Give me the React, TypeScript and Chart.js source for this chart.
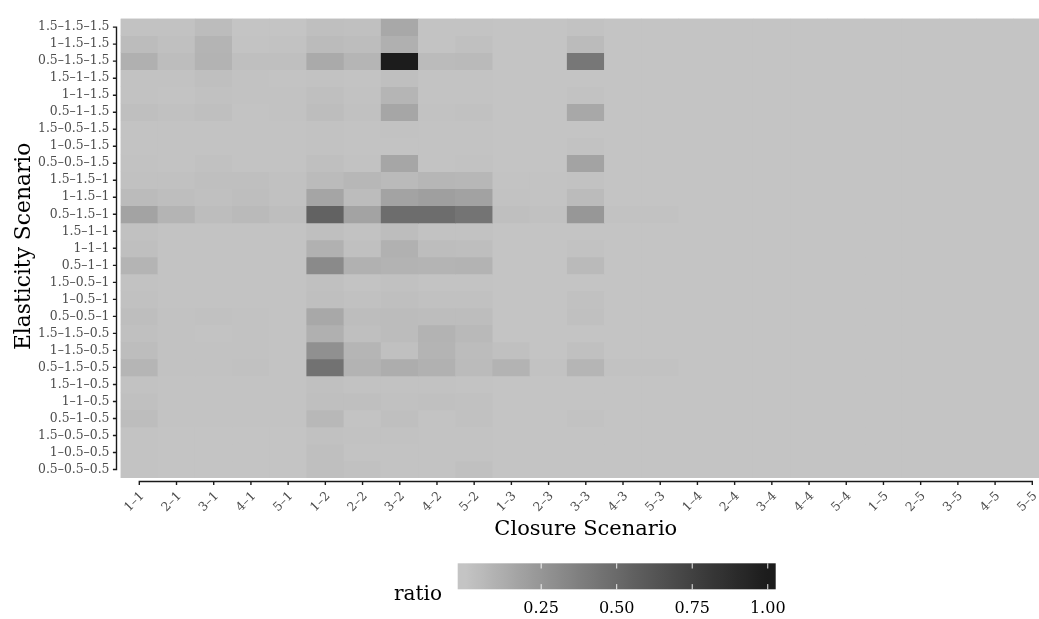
import React, { useEffect, useRef } from 'react';
import { Chart, registerables } from 'chart.js';

Chart.register(...registerables);

// ---------- data ----------
const closureScenarios = [
  '1–1', '2–1', '3–1', '4–1', '5–1',
  '1–2', '2–2', '3–2', '4–2', '5–2',
  '1–3', '2–3', '3–3', '4–3', '5–3',
  '1–4', '2–4', '3–4', '4–4', '5–4',
  '1–5', '2–5', '3–5', '4–5', '5–5',
];

const elasticityScenarios = [
  '1.5–1.5–1.5', '1–1.5–1.5', '0.5–1.5–1.5',
  '1.5–1–1.5', '1–1–1.5', '0.5–1–1.5',
  '1.5–0.5–1.5', '1–0.5–1.5', '0.5–0.5–1.5',
  '1.5–1.5–1', '1–1.5–1', '0.5–1.5–1',
  '1.5–1–1', '1–1–1', '0.5–1–1',
  '1.5–0.5–1', '1–0.5–1', '0.5–0.5–1',
  '1.5–1.5–0.5', '1–1.5–0.5', '0.5–1.5–0.5',
  '1.5–1–0.5', '1–1–0.5', '0.5–1–0.5',
  '1.5–0.5–0.5', '1–0.5–0.5', '0.5–0.5–0.5',
];

// ratio, one row per elasticity scenario, one value per closure scenario
const ratioRows: number[][] = [
  [0.01, 0.01, 0.043, 0, 0, 0.027, 0.022, 0.15, 0.005, 0.005, 0, 0, 0.01, 0, 0, 0, 0, 0, 0, 0, 0, 0, 0, 0, 0],
  [0.043, 0.022, 0.084, 0.005, 0.01, 0.05, 0.038, 0.106, 0.005, 0.022, 0, 0, 0.05, 0, 0, 0, 0, 0, 0, 0, 0, 0, 0, 0, 0],
  [0.106, 0.038, 0.09, 0.027, 0.027, 0.138, 0.08, 1.0, 0.05, 0.054, 0, 0, 0.42, 0, 0, 0, 0, 0, 0, 0, 0, 0, 0, 0, 0],
  [0.01, 0.01, 0.027, 0.01, 0.005, 0.01, 0.005, 0.027, 0.005, 0.005, 0, 0, 0, 0, 0, 0, 0, 0, 0, 0, 0, 0, 0, 0, 0],
  [0.01, 0.005, 0.016, 0.01, 0.01, 0.027, 0.01, 0.08, 0.005, 0.005, 0, 0, 0.01, 0, 0, 0, 0, 0, 0, 0, 0, 0, 0, 0, 0],
  [0.027, 0.016, 0.027, 0.005, 0.01, 0.038, 0.016, 0.16, 0.01, 0.016, 0, 0, 0.15, 0, 0, 0, 0, 0, 0, 0, 0, 0, 0, 0, 0],
  [0.005, 0.005, 0.005, 0.005, 0.005, 0.01, 0.005, 0.01, 0.005, 0.005, 0, 0, 0, 0, 0, 0, 0, 0, 0, 0, 0, 0, 0, 0, 0],
  [0.005, 0.005, 0.005, 0.005, 0.005, 0.01, 0.005, 0.005, 0.005, 0.005, 0, 0, 0.01, 0, 0, 0, 0, 0, 0, 0, 0, 0, 0, 0, 0],
  [0.01, 0.005, 0.016, 0.005, 0.005, 0.027, 0.01, 0.16, 0.005, 0.01, 0, 0, 0.176, 0, 0, 0, 0, 0, 0, 0, 0, 0, 0, 0, 0],
  [0.016, 0.016, 0.027, 0.027, 0.016, 0.05, 0.07, 0.054, 0.075, 0.07, 0.005, 0.005, 0.01, 0, 0, 0, 0, 0, 0, 0, 0, 0, 0, 0, 0],
  [0.05, 0.032, 0.022, 0.032, 0.016, 0.165, 0.043, 0.176, 0.197, 0.18, 0.01, 0.005, 0.05, 0, 0, 0, 0, 0, 0, 0, 0, 0, 0, 0, 0],
  [0.176, 0.084, 0.038, 0.054, 0.032, 0.545, 0.176, 0.48, 0.48, 0.44, 0.027, 0.016, 0.24, 0.01, 0.01, 0, 0, 0, 0, 0, 0, 0, 0, 0, 0],
  [0.016, 0.005, 0.005, 0.005, 0.005, 0.027, 0.01, 0.038, 0.01, 0.01, 0, 0, 0, 0, 0, 0, 0, 0, 0, 0, 0, 0, 0, 0, 0],
  [0.027, 0.005, 0.005, 0.005, 0.005, 0.1, 0.022, 0.1, 0.038, 0.032, 0, 0, 0.01, 0, 0, 0, 0, 0, 0, 0, 0, 0, 0, 0, 0],
  [0.084, 0.005, 0.005, 0.005, 0.005, 0.313, 0.1, 0.09, 0.085, 0.09, 0, 0, 0.054, 0, 0, 0, 0, 0, 0, 0, 0, 0, 0, 0, 0],
  [0.01, 0.005, 0.005, 0.005, 0.005, 0.022, 0.005, 0.016, 0.005, 0.005, 0, 0, 0, 0, 0, 0, 0, 0, 0, 0, 0, 0, 0, 0, 0],
  [0.016, 0.005, 0.005, 0.005, 0.005, 0.027, 0.016, 0.027, 0.016, 0.016, 0, 0, 0.016, 0, 0, 0, 0, 0, 0, 0, 0, 0, 0, 0, 0],
  [0.032, 0.01, 0.016, 0.01, 0.005, 0.15, 0.038, 0.043, 0.035, 0.038, 0, 0, 0.022, 0, 0, 0, 0, 0, 0, 0, 0, 0, 0, 0, 0],
  [0.022, 0.01, 0.005, 0.01, 0.005, 0.106, 0.027, 0.043, 0.09, 0.06, 0, 0, 0, 0, 0, 0, 0, 0, 0, 0, 0, 0, 0, 0, 0],
  [0.038, 0.01, 0.01, 0.01, 0.005, 0.28, 0.08, 0.022, 0.085, 0.043, 0.022, 0, 0.022, 0, 0, 0, 0, 0, 0, 0, 0, 0, 0, 0, 0],
  [0.08, 0.01, 0.01, 0.016, 0.005, 0.45, 0.09, 0.125, 0.1, 0.05, 0.09, 0.01, 0.08, 0.01, 0.01, 0, 0, 0, 0, 0, 0, 0, 0, 0, 0],
  [0.01, 0.005, 0.005, 0.005, 0.005, 0.022, 0.01, 0.01, 0.01, 0.005, 0, 0, 0, 0, 0, 0, 0, 0, 0, 0, 0, 0, 0, 0, 0],
  [0.022, 0.005, 0.005, 0.005, 0.005, 0.027, 0.027, 0.016, 0.022, 0.016, 0, 0, 0, 0, 0, 0, 0, 0, 0, 0, 0, 0, 0, 0, 0],
  [0.038, 0.005, 0.005, 0.005, 0.005, 0.063, 0.005, 0.027, 0.005, 0.016, 0, 0, 0.01, 0, 0, 0, 0, 0, 0, 0, 0, 0, 0, 0, 0],
  [0.005, 0, 0, 0, 0, 0.016, 0.01, 0.01, 0.005, 0.005, 0, 0, 0, 0, 0, 0, 0, 0, 0, 0, 0, 0, 0, 0, 0],
  [0.005, 0, 0, 0, 0, 0.027, 0.005, 0.005, 0.005, 0.005, 0, 0, 0, 0, 0, 0, 0, 0, 0, 0, 0, 0, 0, 0, 0],
  [0.005, 0, 0, 0, 0, 0.027, 0.016, 0.005, 0.005, 0.022, 0, 0, 0, 0, 0, 0, 0, 0, 0, 0, 0, 0, 0, 0, 0],
];

const legendBreaks = [0.25, 0.5, 0.75, 1.0];
const legendBreakLabels = ['0.25', '0.50', '0.75', '1.00'];

// ---------- colour scale (lightness interpolation, grey77 -> grey11) ----------
const LOW_GREY = 196;
const HIGH_GREY = 28;

function toLinear(c: number) {
  const s = c / 255;
  return s <= 0.04045 ? s / 12.92 : Math.pow((s + 0.055) / 1.055, 2.4);
}
function toSrgb(v: number) {
  const c = v <= 0.0031308 ? 12.92 * v : 1.055 * Math.pow(v, 1 / 2.4) - 0.055;
  return Math.round(Math.min(1, Math.max(0, c)) * 255);
}
function yToL(Y: number) {
  return Y > 0.008856 ? 116 * Math.cbrt(Y) - 16 : 903.3 * Y;
}
function lToY(L: number) {
  return L > 8 ? Math.pow((L + 16) / 116, 3) : L / 903.3;
}
const L_LOW = yToL(toLinear(LOW_GREY));
const L_HIGH = yToL(toLinear(HIGH_GREY));
function ratioColor(t: number) {
  const tt = Math.min(1, Math.max(0, t));
  const g = toSrgb(lToY(L_LOW + (L_HIGH - L_LOW) * tt));
  return `rgb(${g},${g},${g})`;
}

// ---------- layout constants ----------
const CANVAS_W = 1070;
const CANVAS_H = 619;
const PANEL_LEFT = 120.7;
const PANEL_RIGHT = 1050.9;
const PANEL_TOP = 10.3;
const PANEL_BOTTOM = 478;
const SERIF = "'DejaVu Serif', serif";

const ggPlugin = {
  id: 'ggDecor',
  beforeDatasetsDraw(chart: any) {
    const { ctx, chartArea } = chart;
    ctx.save();
    ctx.fillStyle = ratioColor(0);
    ctx.fillRect(chartArea.left, chartArea.top, chartArea.right - chartArea.left, chartArea.bottom - chartArea.top);
    ctx.restore();
  },
  afterDraw(chart: any) {
    const { ctx, chartArea } = chart;
    const xs = chart.scales.x;
    const ys = chart.scales.y;
    ctx.save();
    ctx.strokeStyle = '#1a1a1a';
    ctx.lineWidth = 1.4;
    ctx.lineCap = 'butt';

    // y axis line (truncated to tick range) + ticks
    const axX = chartArea.left - 4.2;
    const yFirst = ys.getPixelForValue(0);
    const yLast = ys.getPixelForValue(elasticityScenarios.length - 1);
    ctx.beginPath();
    ctx.moveTo(axX, yFirst - 0.7);
    ctx.lineTo(axX, yLast + 0.7);
    elasticityScenarios.forEach((_, i) => {
      const py = ys.getPixelForValue(i);
      ctx.moveTo(axX, py);
      ctx.lineTo(axX - 3.6, py);
    });
    ctx.stroke();

    // x axis line + ticks
    const axY = chartArea.bottom + 3.5;
    const xFirst = xs.getPixelForValue(0);
    const xLast = xs.getPixelForValue(closureScenarios.length - 1);
    ctx.beginPath();
    ctx.moveTo(xFirst - 0.7, axY);
    ctx.lineTo(xLast + 0.7, axY);
    closureScenarios.forEach((_, i) => {
      const px = xs.getPixelForValue(i);
      ctx.moveTo(px, axY);
      ctx.lineTo(px, axY + 3.6);
    });
    ctx.stroke();

    // axis titles
    ctx.fillStyle = '#000';
    ctx.font = `21px ${SERIF}`;
    ctx.textAlign = 'center';
    ctx.textBaseline = 'alphabetic';
    ctx.fillText('Closure Scenario', (PANEL_LEFT + PANEL_RIGHT) / 2, 535);
    ctx.save();
    ctx.font = `21.8px ${SERIF}`;
    ctx.translate(29.5, (chartArea.top + chartArea.bottom) / 2 - 2);
    ctx.rotate(-Math.PI / 2);
    ctx.fillText('Elasticity Scenario', 0, 0);
    ctx.restore();

    // colour bar legend
    const bx0 = 457.7, bx1 = 775.7, by0 = 563.3, by1 = 589.3;
    const grad = ctx.createLinearGradient(bx0, 0, bx1, 0);
    for (let k = 0; k <= 40; k++) {
      const v = k / 40;
      grad.addColorStop(0.025 + 0.95 * v, ratioColor(v));
    }
    grad.addColorStop(0, ratioColor(0));
    grad.addColorStop(1, ratioColor(1));
    ctx.fillStyle = grad;
    ctx.fillRect(bx0, by0, bx1 - bx0, by1 - by0);

    ctx.strokeStyle = '#ffffff';
    ctx.lineWidth = 0.9;
    const tickLen = (by1 - by0) / 5;
    ctx.beginPath();
    legendBreaks.forEach((v) => {
      const px = bx0 + (0.025 + 0.95 * v) * (bx1 - bx0);
      ctx.moveTo(px, by0);
      ctx.lineTo(px, by0 + tickLen);
      ctx.moveTo(px, by1 - tickLen);
      ctx.lineTo(px, by1);
    });
    ctx.stroke();

    ctx.fillStyle = '#000';
    ctx.font = `16px ${SERIF}`;
    ctx.textAlign = 'center';
    legendBreaks.forEach((v, i) => {
      const px = bx0 + (0.025 + 0.95 * v) * (bx1 - bx0);
      ctx.fillText(legendBreakLabels[i], px, 613);
    });
    ctx.font = `20px ${SERIF}`;
    ctx.textAlign = 'left';
    ctx.fillText('ratio', 394, 600);

    ctx.restore();
  },
};

export default function App() {
  const ref = useRef<HTMLCanvasElement>(null);

  useEffect(() => {
    if (!ref.current) return;
    const datasets = elasticityScenarios.map((label, i) => ({
      label,
      data: closureScenarios.map(() => [i - 0.5, i + 0.5]),
      backgroundColor: ratioRows[i].map((v) => ratioColor(v)),
      borderWidth: 0,
      barPercentage: 1,
      categoryPercentage: 1,
      grouped: false,
    }));

    const chart = new Chart(ref.current, {
      type: 'bar',
      data: { labels: closureScenarios, datasets: datasets as any },
      plugins: [ggPlugin],
      options: {
        animation: false,
        responsive: true,
        maintainAspectRatio: false,
        devicePixelRatio: 1,
        layout: { padding: { top: PANEL_TOP, left: 0, right: CANVAS_W - PANEL_RIGHT, bottom: 0 } },
        plugins: { legend: { display: false }, tooltip: { enabled: false }, title: { display: false } },
        scales: {
          x: {
            type: 'category',
            offset: true,
            grid: { display: false, drawTicks: false },
            border: { display: false },
            ticks: {
              autoSkip: false,
              minRotation: 45,
              maxRotation: 45,
              padding: 11,
              labelOffset: 3,
              color: '#4d4d4d',
              font: { family: SERIF, size: 12.4 },
            },
            afterFit: (scale: any) => {
              scale.height = CANVAS_H - PANEL_BOTTOM;
            },
          },
          y: {
            type: 'linear',
            min: -0.5,
            max: elasticityScenarios.length - 0.5,
            reverse: true,
            grid: { display: false, drawTicks: false },
            border: { display: false },
            afterBuildTicks: (scale: any) => {
              scale.ticks = elasticityScenarios.map((_, i) => ({ value: i }));
            },
            ticks: {
              autoSkip: false,
              padding: 11.2,
              color: '#4d4d4d',
              font: { family: SERIF, size: 12.4 },
              callback: (v: any) => elasticityScenarios[Math.round(Number(v))] ?? '',
            },
            afterFit: (scale: any) => {
              scale.width = PANEL_LEFT;
            },
          },
        },
      },
    });
    return () => chart.destroy();
  }, []);

  return (
    <div style={{ position: 'fixed', left: 0, top: 0, width: 1039, height: 619, overflow: 'hidden', background: '#fff' }}>
      <div style={{ position: 'absolute', left: 0, top: 0, width: CANVAS_W, height: CANVAS_H }}>
        <canvas ref={ref} />
      </div>
    </div>
  );
}
